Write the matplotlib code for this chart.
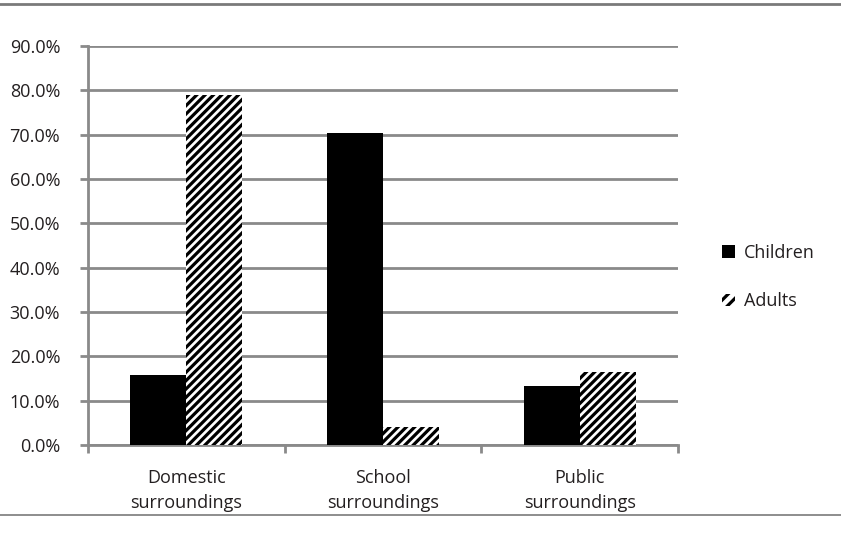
import matplotlib
matplotlib.use("Agg")
import matplotlib.pyplot as plt
from matplotlib.ticker import FuncFormatter, FixedLocator
from matplotlib.patches import Patch
from matplotlib.lines import Line2D
import numpy as np

categories = ["Domestic\nsurroundings", "School\nsurroundings", "Public\nsurroundings"]
children = [15.8, 70.4, 13.2]
adults = [79.0, 4.1, 16.5]
series_names = ["Children", "Adults"]

plt.rcParams['font.family'] = ['Open Sans', 'DejaVu Sans']
plt.rcParams['hatch.linewidth'] = 2.3
plt.rcParams['hatch.color'] = 'black'

fig = plt.figure(figsize=(8.41, 5.34), dpi=100)
ax = fig.add_axes([88/841, 1-445/534, (678-88)/841, (445-46)/534])

x = np.arange(len(categories))
w = 0.285
grid_c = '#8a8a8a'
txt_c = '#231f20'
fs = 13

ax.bar(x - w/2, children, width=w, color='black', edgecolor='black', linewidth=0, zorder=3)
ax.bar(x + w/2, adults, width=w, color='white', edgecolor='black', linewidth=0, hatch='////', zorder=3)

ax.set_xlim(-0.5, 2.5)
ax.set_ylim(0, 90)
ax.set_yticks(np.arange(0, 91, 10))
ax.yaxis.set_major_formatter(FuncFormatter(lambda v, p: f"{v:.1f}%"))
ax.yaxis.grid(True, color=grid_c, linewidth=2)
ax.set_axisbelow(True)

ax.set_xticks(x)
ax.set_xticklabels(categories, fontsize=fs, color=txt_c, linespacing=1.5)
ax.tick_params(axis='x', length=0, pad=17)
ax.xaxis.set_minor_locator(FixedLocator([-0.5, 0.5, 1.5, 2.5]))
ax.tick_params(axis='x', which='minor', length=6, width=2, color=grid_c)
ax.tick_params(axis='y', length=6, width=2, color=grid_c, labelsize=fs, labelcolor=txt_c, pad=14)

for s in ['top', 'right']:
    ax.spines[s].set_visible(False)
ax.spines['left'].set_color(grid_c)
ax.spines['left'].set_linewidth(2)
ax.spines['bottom'].set_color(grid_c)
ax.spines['bottom'].set_linewidth(2)

handles = [Patch(facecolor='black', edgecolor='black', linewidth=0),
           Patch(facecolor='white', edgecolor='black', linewidth=0, hatch='///')]
fig.legend(handles, series_names, loc='center left', bbox_to_anchor=(706/841, 1-277/534),
           frameon=False, fontsize=fs, handlelength=0.7, handleheight=0.7,
           handletextpad=0.5, labelspacing=1.68, labelcolor=txt_c)

fig.add_artist(Line2D([0, 1], [1-4/534, 1-4/534], color='#7a7a7a', linewidth=2, transform=fig.transFigure))
fig.add_artist(Line2D([0, 1], [1-515/534, 1-515/534], color='#7a7a7a', linewidth=1.2, transform=fig.transFigure))

fig.savefig("out.png", dpi=100)
